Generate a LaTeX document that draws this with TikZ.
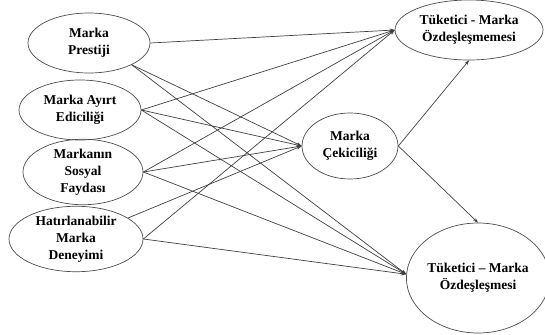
\documentclass[tikz,border=0pt]{standalone}
\usepackage{fontspec}
\setmainfont{Liberation Serif}
\usetikzlibrary{shapes.geometric,arrows.meta}
\begin{document}
\begin{tikzpicture}[x=1pt,y=-1pt,
  construct/.style={ellipse,draw=black!70,line width=0.7pt,inner sep=0pt,
    align=center,font=\fontsize{13.5}{17}\selectfont\bfseries},
  link/.style={draw=black!75,line width=0.7pt,-{Stealth[length=5pt,width=3.6pt]}}]
\useasboundingbox (0,0) rectangle (545,334);
% exogenous constructs (left column)
\node[construct,minimum width=122pt,minimum height=60pt] (pres) at (89,43) {Marka\\Prestiji};
\node[construct,minimum width=122pt,minimum height=60pt] (ayirt) at (80,110) {Marka Ayırt\\Ediciliği};
\node[construct,minimum width=120pt,minimum height=58pt] (sos) at (83,172) {Markanın\\Sosyal\\Faydası};
\node[construct,minimum width=134pt,minimum height=60pt] (hat) at (76,239) {Hatırlanabilir\\Marka\\Deneyimi};
% mediator and outcomes
\node[construct,minimum width=96pt,minimum height=66pt] (cek) at (350,146) {Marka\\Çekiciliği};
\node[construct,minimum width=148pt,minimum height=60pt] (mem) at (469,30) {Tüketici - Marka\\Özdeşleşmemesi};
\node[construct,minimum width=132pt,minimum height=110pt] (tmo) at (478,278) {Tüketici – Marka\\Özdeşleşmesi};
% paths
\draw[link] (pres.east) -- (mem.west);
\draw[link] (pres.-27) -- (cek.west);
\draw[link] (pres.-27) -- (tmo.177);
\draw[link] (ayirt.east) -- (mem.west);
\draw[link] (ayirt.east) -- (cek.west);
\draw[link] (ayirt.east) -- (tmo.177);
\draw[link] (sos.east) -- (mem.west);
\draw[link] (sos.east) -- (cek.west);
\draw[link] (sos.east) -- (tmo.177);
\draw[link] (hat.22) -- (cek.west);
\draw[link] (hat.east) -- (mem.west);
\draw[link] (hat.east) -- (tmo.177);
\draw[link] (cek.east) -- (mem.south);
\draw[link] (cek.east) -- (tmo.north);
\end{tikzpicture}
\end{document}
